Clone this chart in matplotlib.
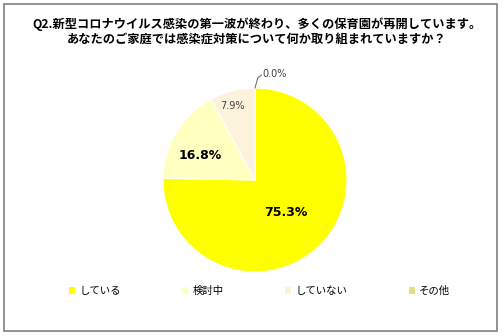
import matplotlib.pyplot as plt
from matplotlib.patches import Rectangle

plt.rcParams['font.family'] = ['Noto Sans CJK JP', 'DejaVu Sans']

title = 'Q2.新型コロナウイルス感染の第一波が終わり、多くの保育園が再開しています。\nあなたのご家庭では感染症対策について何か取り組まれていますか？'
categories = ['している', '検討中', 'していない', 'その他']
values = [75.3, 16.8, 7.9, 0.0]
colors = ['#FFFF00', '#FFFFC0', '#FDF2DC', '#E3DF80']

fig = plt.figure(figsize=(5.04, 3.36), dpi=100)
fig.patches.append(Rectangle((4 / 504, 5 / 336), 493 / 504, 327 / 336, transform=fig.transFigure,
                             fill=False, edgecolor='#808080', linewidth=1.2))

fig.text(0.51, 0.905, title, ha='center', va='center', fontsize=8.8, fontweight='bold',
         linespacing=1.15)

# pie: center (255,180), radius ~92 px
ax = fig.add_axes([(255 - 92) / 504, (336 - 180 - 92) / 336, 184 / 504, 184 / 336])
wedges, _ = ax.pie(values, colors=colors, startangle=90, counterclock=False,
                   wedgeprops=dict(linewidth=0.8, edgecolor='white'))
ax.set_xlim(-1, 1)
ax.set_ylim(-1, 1)
ax.set_aspect('equal')

num = ['DejaVu Sans']
ax.text(0.33, -0.35, f'{values[0]:.1f}%', ha='center', va='center', fontsize=9, fontweight='bold', family=num)
ax.text(-0.6, 0.27, f'{values[1]:.1f}%', ha='center', va='center', fontsize=9, fontweight='bold', family=num)
ax.text(-0.24, 0.8, f'{values[2]:.1f}%', ha='center', va='center', fontsize=7, color='#404040', family=num)
ax.plot([0.0, 0.03, 0.07], [1.0, 1.11, 1.14], color='#606060', lw=0.7, clip_on=False)
ax.text(0.08, 1.15, f'{values[3]:.1f}%', ha='left', va='center', fontsize=7, color='#404040', family=num)

handles = [Rectangle((0, 0), 1, 1, facecolor=c) for c in colors]
fig.legend(handles, categories, loc='center', bbox_to_anchor=(0.515, 1 - 291 / 336), ncol=4,
           frameon=False, fontsize=7.5, handlelength=0.6, handleheight=0.6, handletextpad=0.4,
           columnspacing=5.9)

fig.savefig('out.png', dpi=100)
